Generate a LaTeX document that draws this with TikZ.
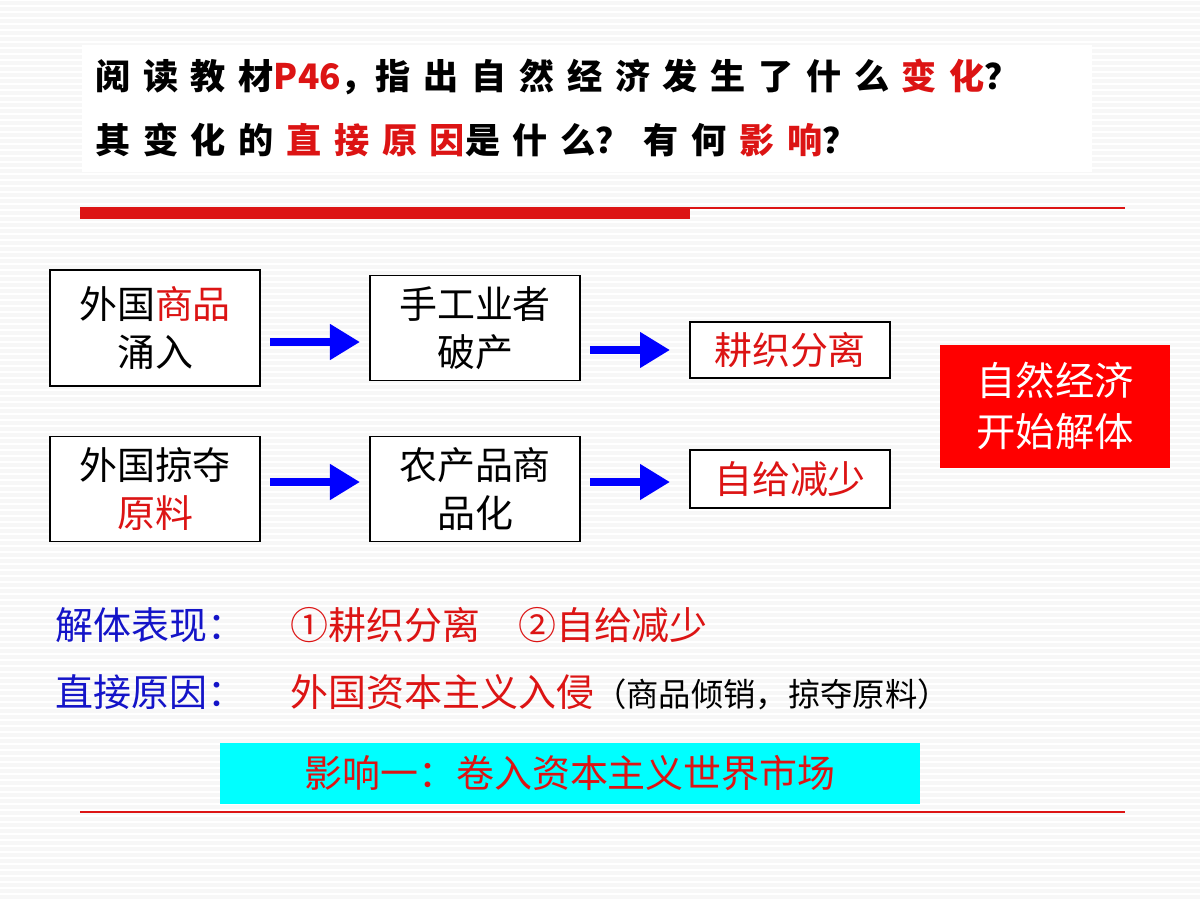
\documentclass[tikz,border=0pt]{standalone}
\usepackage{fontspec}
\setmainfont{Noto Sans CJK SC}
\usetikzlibrary{arrows.meta,positioning}
\definecolor{hired}{RGB}{220,20,20}
\definecolor{hiblue}{RGB}{20,20,200}
\definecolor{hicyan}{RGB}{0,255,255}
\newcommand{\qs}{\hspace{9pt}}
\tikzset{
  flowbox/.style={draw=black,fill=white,line width=0.8pt,align=center,font=\fontsize{27}{34}\selectfont,inner sep=0pt},
  flowarrow/.style={-{Triangle[length=0.75cm,width=0.85cm]},blue,line width=0.22cm},
  linetext/.style={anchor=west,font=\fontsize{27}{32}\selectfont,inner sep=0pt}
}
\begin{document}
\begin{tikzpicture}[x=0.025cm,y=-0.025cm]
\useasboundingbox (0,0) rectangle (1200,900);
\fill[gray!6] (0,0) rectangle (1200,900);
\foreach \yy in {0,6,...,900} \draw[white,line width=1pt] (0,\yy) -- (1200,\yy);
%question
\fill[white] (82,45) rectangle (1092,172);
\node[linetext,font=\fontsize{25}{30}\selectfont\bfseries] (q1) at (95,77) {阅\qs 读\qs 教\qs 材\textcolor{hired}{P46}，指\qs 出\qs 自\qs 然\qs 经\qs 济\qs 发\qs 生\qs 了\qs 什\qs 么\qs \textcolor{hired}{变\qs 化}？};
\node[linetext,font=\fontsize{25}{30}\selectfont\bfseries] (q2) at (95,140) {其\qs 变\qs 化\qs 的\qs \textcolor{hired}{直\qs 接\qs 原\qs 因}是\qs 什\qs 么？\qs 有\qs 何\qs \textcolor{hired}{影\qs 响}？};
\fill[hired] (80,207) rectangle (690,219);
\draw[hired,line width=1pt] (690,208) -- (1125,208);
%boxes
\node[flowbox,minimum width=210*0.025cm,minimum height=116*0.025cm] (a1) at (155,328) {外国\textcolor{hired}{商品}\\涌入};
\node[flowbox,minimum width=210*0.025cm,minimum height=105*0.025cm] (a2) at (475,328) {手工业者\\破产};
\node[flowbox,minimum width=200*0.025cm,minimum height=56*0.025cm,text=hired] (a3) at (790,350) {耕织分离};
\node[flowbox,minimum width=210*0.025cm,minimum height=105*0.025cm] (b1) at (155,489) {外国掠夺\\\textcolor{hired}{原料}};
\node[flowbox,minimum width=210*0.025cm,minimum height=105*0.025cm] (b2) at (475,489) {农产品商\\品化};
\node[flowbox,minimum width=200*0.025cm,minimum height=58*0.025cm,text=hired] (b3) at (790,479) {自给减少};
\node[fill=red,text=white,align=center,minimum width=230*0.025cm,minimum height=123*0.025cm,inner sep=0pt,font=\fontsize{28}{36}\selectfont] (res) at (1055,406) {自然经济\\开始解体};
\draw[flowarrow] (270,342) -- (360,342);
\draw[flowarrow] (590,350) -- (670,350);
\draw[flowarrow] (270,482) -- (360,482);
\draw[flowarrow] (590,482) -- (670,482);
%summary
\node[linetext,text=hiblue] (s1) at (55,625) {解体表现：};
\node[linetext,text=hired] (s1r) at (290,625) {①耕织分离\quad ②自给减少};
\node[linetext,text=hiblue] (s2) at (55,692) {直接原因：};
\node[linetext] (s2r) at (290,692) {\textcolor{hired}{外国资本主义入侵}\fontsize{23}{28}\selectfont（商品倾销，掠夺原料）};
\node[fill=hicyan,text=hired,minimum width=700*0.025cm,minimum height=61*0.025cm,inner sep=0pt,font=\fontsize{27}{32}\selectfont] (imp) at (570,773) {影响一：卷入资本主义世界市场};
\draw[hired,line width=1pt] (80,812) -- (1125,812);
\end{tikzpicture}
\end{document}
